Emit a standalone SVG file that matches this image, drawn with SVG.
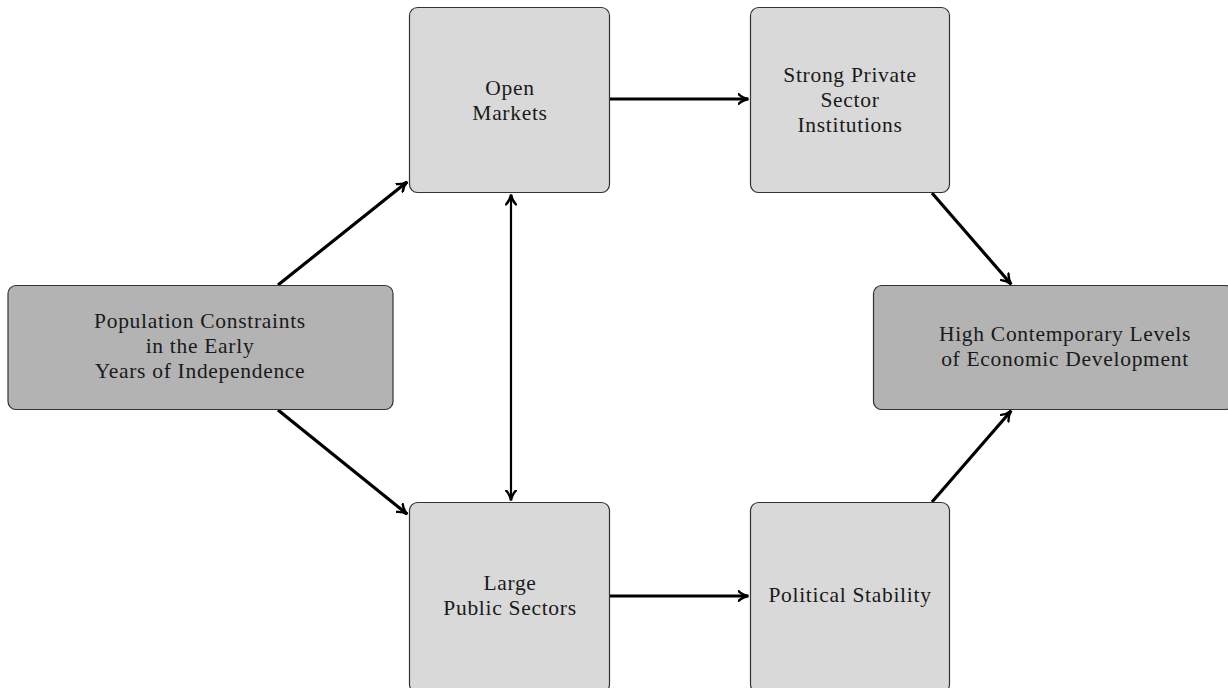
<svg xmlns="http://www.w3.org/2000/svg" width="1228" height="688" viewBox="0 0 1228 688">
<style>
.box{stroke:#333;stroke-width:1.2}
.light{fill:#d9d9d9}
.dark{fill:#b3b3b3}
text{font-family:"Liberation Serif","DejaVu Serif",serif;font-size:21.5px;letter-spacing:0.7px;fill:#1a1a1a;text-anchor:middle}
.edge{stroke:#000;stroke-width:3.2;fill:none}
.thin{stroke:#000;stroke-width:2.2;fill:none}
</style>
<defs>
<marker id="ah" viewBox="0 0 12 12" refX="10.5" refY="6" markerWidth="12" markerHeight="12" markerUnits="userSpaceOnUse" orient="auto-start-reverse">
<path d="M1,1 Q5,5 11,6 Q5,7 1,11" fill="none" stroke="#000" stroke-width="2.4" stroke-linecap="round"/>
</marker>
</defs>
<rect width="1228" height="688" fill="#fff"/>
<g id="connectors">
<line class="edge" x1="278" y1="285" x2="407" y2="182" marker-end="url(#ah)"/>
<line class="edge" x1="278" y1="410" x2="407" y2="514" marker-end="url(#ah)"/>
<line class="thin" x1="511" y1="195" x2="511" y2="500" marker-start="url(#ah)" marker-end="url(#ah)"/>
<line class="edge" x1="610" y1="99" x2="748" y2="99" marker-end="url(#ah)"/>
<line class="edge" x1="610" y1="596" x2="748" y2="596" marker-end="url(#ah)"/>
<line class="edge" x1="932" y1="193" x2="1011" y2="284" marker-end="url(#ah)"/>
<line class="edge" x1="932" y1="502" x2="1011" y2="411" marker-end="url(#ah)"/>
</g>
<g id="population">
<rect class="box dark" x="8" y="285.5" width="385" height="124" rx="8"/>
<text x="200" y="328">Population Constraints</text>
<text x="200" y="353">in the Early</text>
<text x="200" y="378">Years of Independence</text>
</g>
<g id="open-markets">
<rect class="box light" x="409.5" y="7.5" width="200" height="185" rx="8"/>
<text x="510" y="95">Open</text>
<text x="510" y="120">Markets</text>
</g>
<g id="strong-private">
<rect class="box light" x="750.5" y="7.5" width="199" height="185" rx="8"/>
<text x="850" y="82">Strong Private</text>
<text x="850" y="107">Sector</text>
<text x="850" y="132">Institutions</text>
</g>
<g id="high-contemporary">
<rect class="box dark" x="873.5" y="285.5" width="360" height="124" rx="8"/>
<text x="1065" y="341">High Contemporary Levels</text>
<text x="1065" y="366">of Economic Development</text>
</g>
<g id="large-public">
<rect class="box light" x="409.5" y="502.5" width="200" height="190" rx="8"/>
<text x="510" y="590">Large</text>
<text x="510" y="615">Public Sectors</text>
</g>
<g id="political-stability">
<rect class="box light" x="750.5" y="502.5" width="199" height="190" rx="8"/>
<text x="850" y="602">Political Stability</text>
</g>
</svg>
